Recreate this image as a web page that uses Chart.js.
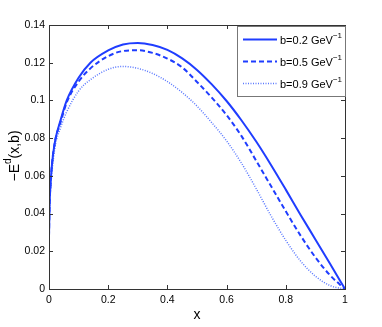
<!DOCTYPE html>
<html><head><meta charset="utf-8">
<script src="https://cdn.jsdelivr.net/npm/chart.js@4"></script>
<style>html,body{margin:0;padding:0;background:#fff}canvas{display:block}</style>
</head><body>
<canvas id="c" width="382" height="327"></canvas>
<script>
const xs     = [0, 0.002, 0.005, 0.01, 0.02, 0.04, 0.06, 0.1, 0.14, 0.2, 0.25, 0.3, 0.35, 0.4, 0.45, 0.5, 0.55, 0.6, 0.65, 0.7, 0.75, 0.8, 0.85, 0.9, 0.95, 1.0];
const solid  = [0.028, 0.045, 0.055, 0.066, 0.078, 0.090, 0.100, 0.112, 0.120, 0.1265, 0.1297, 0.1305, 0.1294, 0.1268, 0.1223, 0.1162, 0.1085, 0.0997, 0.0895, 0.0782, 0.0658, 0.0527, 0.0393, 0.0263, 0.0132, 0.0];
const dashed = [0.028, 0.045, 0.055, 0.066, 0.078, 0.089, 0.099, 0.110, 0.117, 0.1235, 0.1262, 0.1266, 0.1252, 0.1222, 0.1175, 0.1098, 0.1015, 0.0922, 0.0812, 0.0680, 0.0546, 0.0412, 0.0283, 0.0168, 0.0072, 0.0];
const dotted = [0.028, 0.043, 0.052, 0.062, 0.075, 0.086, 0.094, 0.105, 0.111, 0.1165, 0.1180, 0.1170, 0.1143, 0.1100, 0.1042, 0.0970, 0.0882, 0.0785, 0.0668, 0.0532, 0.0388, 0.0258, 0.0148, 0.0068, 0.0018, 0.0];
const seriesLabels = ['b=0.2 GeV', 'b=0.5 GeV', 'b=0.9 GeV'];
const xTickLabels = ['0', '0.2', '0.4', '0.6', '0.8', '1'];
const yTickLabels = ['0', '0.02', '0.04', '0.06', '0.08', '0.1', '0.12', '0.14'];

const BLUE = '#1f3dff';
const FONT = '"Liberation Sans", Arial, sans-serif';
const pts = arr => xs.map((x, i) => ({x: x, y: arr[i]}));

const framePlugin = {
  id: 'frame',
  afterDraw(chart) {
    const ctx = chart.ctx;
    const {left, right, top, bottom} = chart.chartArea;
    const xS = chart.scales.x, yS = chart.scales.y;
    ctx.save();
    ctx.strokeStyle = '#333';
    ctx.lineWidth = 1;
    ctx.strokeRect(Math.round(left) + 0.5, Math.round(top) + 0.5, Math.round(right - left), Math.round(bottom - top));
    ctx.beginPath();
    xS.ticks.forEach(t => {
      const px = Math.round(xS.getPixelForValue(t.value)) + 0.5;
      ctx.moveTo(px, bottom); ctx.lineTo(px, bottom - 4);
      ctx.moveTo(px, top); ctx.lineTo(px, top + 4);
    });
    yS.ticks.forEach(t => {
      const py = Math.round(yS.getPixelForValue(t.value)) + 0.5;
      ctx.moveTo(left, py); ctx.lineTo(left + 4, py);
      ctx.moveTo(right, py); ctx.lineTo(right - 4, py);
    });
    ctx.stroke();

    // axis titles
    ctx.fillStyle = '#000';
    ctx.font = '14px ' + FONT;
    ctx.textAlign = 'center';
    ctx.textBaseline = 'middle';
    ctx.fillText('x', (left + right) / 2, 315);

    // y title with superscript
    ctx.save();
    ctx.translate(14, 156);
    ctx.rotate(-Math.PI / 2);
    const big = '14px ' + FONT, small = '10px ' + FONT;
    ctx.font = big; const w1 = ctx.measureText('\u2212E').width;
    ctx.font = small; const w2 = ctx.measureText('d').width;
    ctx.font = big; const w3 = ctx.measureText('(x,b)').width;
    let x0 = -(w1 + w2 + w3) / 2;
    ctx.textAlign = 'left';
    ctx.textBaseline = 'alphabetic';
    ctx.font = big; ctx.fillText('\u2212E', x0, 5);
    ctx.font = small; ctx.fillText('d', x0 + w1, -3);
    ctx.font = big; ctx.fillText('(x,b)', x0 + w1 + w2, 5);
    ctx.restore();

    // legend
    const bx = 237.5, by = 26.5, bw = 108, bh = 70;
    ctx.fillStyle = '#fff';
    ctx.fillRect(bx, by, bw, bh);
    ctx.strokeStyle = '#777';
    ctx.strokeRect(bx, by, bw, bh);
    chart.data.datasets.forEach((ds, i) => {
      const ly = 39.5 + i * 22;
      ctx.strokeStyle = ds.borderColor;
      ctx.lineWidth = ds.borderWidth;
      ctx.setLineDash(ds.borderDash || []);
      ctx.beginPath(); ctx.moveTo(243, ly); ctx.lineTo(277, ly); ctx.stroke();
      ctx.setLineDash([]);
      ctx.fillStyle = '#000';
      ctx.textBaseline = 'middle';
      ctx.textAlign = 'left';
      ctx.font = '11px ' + FONT;
      ctx.fillText(ds.label, 280, ly + 1);
      const tw = ctx.measureText(ds.label).width;
      ctx.font = '8px ' + FONT;
      ctx.fillText('\u22121', 280 + tw, ly - 4);
    });
    ctx.restore();
  }
};

new Chart(document.getElementById('c'), {
  type: 'line',
  data: {
    datasets: [
      {label: seriesLabels[0], data: pts(solid), borderColor: BLUE, borderWidth: 2, pointRadius: 0, cubicInterpolationMode: 'monotone', fill: false},
      {label: seriesLabels[1], data: pts(dashed), borderColor: BLUE, borderWidth: 2, borderDash: [5, 3], pointRadius: 0, cubicInterpolationMode: 'monotone', fill: false},
      {label: seriesLabels[2], data: pts(dotted), borderColor: '#5a78ff', borderWidth: 1.5, borderDash: [1, 1.5], pointRadius: 0, cubicInterpolationMode: 'monotone', fill: false}
    ]
  },
  options: {
    responsive: false,
    animation: false,
    devicePixelRatio: 1,
    layout: {padding: {top: 25, right: 37, left: 0, bottom: 0}},
    plugins: {legend: {display: false}, tooltip: {enabled: false}},
    scales: {
      x: {
        type: 'linear', min: 0, max: 1,
        grid: {display: false, drawTicks: false},
        border: {display: false},
        ticks: {stepSize: 0.2, padding: 5, color: '#000', font: {family: FONT, size: 10.5}, maxRotation: 0,
          callback: v => xTickLabels[Math.round(v * 5)]},
        afterFit: s => { s.height = 38; }
      },
      y: {
        type: 'linear', min: 0, max: 0.14,
        grid: {display: false, drawTicks: false},
        border: {display: false},
        ticks: {stepSize: 0.02, padding: 4, color: '#000', font: {family: FONT, size: 10.5},
          callback: v => yTickLabels[Math.round(v * 50)]},
        afterFit: s => { s.width = 49; }
      }
    }
  },
  plugins: [framePlugin]
});
</script>
</body></html>
